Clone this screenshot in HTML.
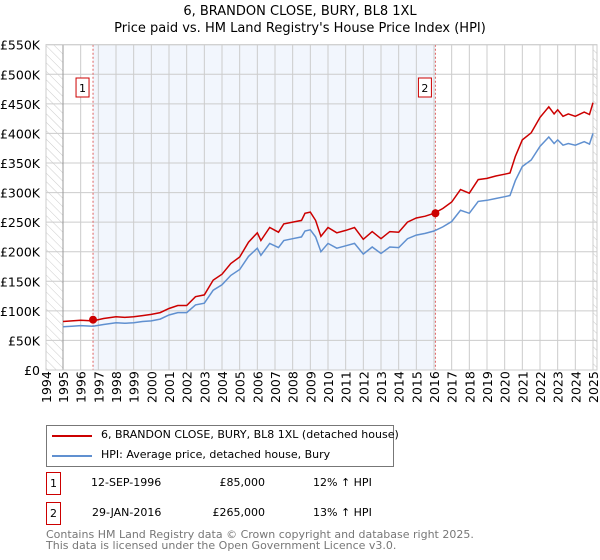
<!DOCTYPE html>
<html><head><meta charset="utf-8"><style>
body{margin:0;background:#fff;font-family:"DejaVu Sans","Liberation Sans",sans-serif;}
#wrap{position:relative;width:600px;height:560px;overflow:hidden}
svg text{font-family:"DejaVu Sans","Liberation Sans",sans-serif}
</style></head><body><div id="wrap">
<svg id="chart" width="600" height="560">
<defs><pattern id="hatch" width="6" height="6" patternUnits="userSpaceOnUse" patternTransform="rotate(-45)"><line x1="0" y1="0" x2="0" y2="6" stroke="#ccc" stroke-width="1"/></pattern></defs>
<text x="300" y="15" text-anchor="middle" font-size="13">6, BRANDON CLOSE, BURY, BL8 1XL</text>
<text x="300" y="32" text-anchor="middle" font-size="13">Price paid vs. HM Land Registry's House Price Index (HPI)</text>
<g id="plot"></g>
</svg>
<div style="position:absolute;left:46px;top:425px;width:346px;height:40px;border:1px solid #777;font-size:11px;white-space:nowrap">
<div style="position:absolute;left:5px;top:9px;width:40px;height:2px;background:#cc0000"></div>
<div style="position:absolute;left:54px;top:2px">6, BRANDON CLOSE, BURY, BL8 1XL (detached house)</div>
<div style="position:absolute;left:5px;top:29px;width:40px;height:2px;background:#6090d0"></div>
<div style="position:absolute;left:54px;top:22px">HPI: Average price, detached house, Bury</div>
</div>
<div style="position:absolute;top:472px;left:0;font-size:11px;width:600px">
<div style="position:absolute;left:46px;top:0;width:13px;height:21px;border:1px solid #c00;text-align:center;line-height:21px">1</div>
<div style="position:absolute;left:91px;top:4px">12-SEP-1996</div>
<div style="position:absolute;left:190px;top:4px;width:75px;text-align:right">£85,000</div>
<div style="position:absolute;left:313px;top:4px">12% ↑ HPI</div></div>
<div style="position:absolute;top:502px;left:0;font-size:11px;width:600px">
<div style="position:absolute;left:46px;top:0;width:13px;height:21px;border:1px solid #c00;text-align:center;line-height:21px">2</div>
<div style="position:absolute;left:92px;top:4px">29-JAN-2016</div>
<div style="position:absolute;left:190px;top:4px;width:75px;text-align:right">£265,000</div>
<div style="position:absolute;left:313px;top:4px">13% ↑ HPI</div></div>
<div style="position:absolute;left:46px;top:529px;font-size:11px;color:#777;line-height:11px">Contains HM Land Registry data © Crown copyright and database right 2025.<br>This data is licensed under the Open Government Licence v3.0.</div>
</div>
<script>
const yTicks=[0,50,100,150,200,250,300,350,400,450,500,550];
const yTickLabels=["£0","£50K","£100K","£150K","£200K","£250K","£300K","£350K","£400K","£450K","£500K","£550K"];
const years=[1994,1995,1996,1997,1998,1999,2000,2001,2002,2003,2004,2005,2006,2007,2008,2009,2010,2011,2012,2013,2014,2015,2016,2017,2018,2019,2020,2021,2022,2023,2024,2025];
const hpiDates=[1995,1995.5,1996,1996.7,1997.3,1998,1998.5,1999,1999.5,2000,2000.5,2001,2001.5,2002,2002.5,2003,2003.5,2004,2004.5,2005,2005.5,2006,2006.2,2006.7,2007.2,2007.5,2008,2008.5,2008.7,2009,2009.3,2009.6,2010,2010.5,2011,2011.5,2012,2012.5,2013,2013.5,2014,2014.5,2015,2015.5,2016,2016.5,2017,2017.5,2018,2018.5,2019,2019.5,2020,2020.3,2020.6,2021,2021.5,2022,2022.5,2022.8,2023,2023.3,2023.6,2024,2024.5,2024.8,2025];
const hpiValues=[73,74,75,74,77,80,79,80,82,83,86,93,97,97,110,113,135,144,160,170,192,206,194,214,207,219,222,225,235,237,225,200,214,206,210,214,196,208,197,208,207,222,228,231,235,242,251,270,265,285,287,290,293,295,320,344,355,378,394,383,389,380,383,380,386,382,400];
const propValues=[82,83,84,83,87,90,89,90,92,94,97,104,109,109,124,127,152,162,180,191,216,232,219,241,233,247,250,253,265,267,253,226,241,232,236,241,221,234,222,234,233,250,257,260,265,273,284,305,299,322,324,328,331,333,361,389,401,427,445,433,440,429,433,429,436,432,452];
const sales=[{d:1996.7,v:85,n:"1"},{d:2016.08,v:265,n:"2"}];
const L=46,R=594,T=44.7,B=370;
const x=d=>63+(d-1995)*(530/30);
const y=v=>B-v*(B-T)/550;
const NS="http://www.w3.org/2000/svg";
const g=document.getElementById('plot');
function mk(t,a,p){const e=document.createElementNS(NS,t);for(const k in a)e.setAttribute(k,a[k]);(p||g).appendChild(e);return e;}
let e;
e=mk('rect',{x:L,y:T,width:x(1995)-L,height:B-T,fill:'url(#hatch)'});


e=mk('rect',{x:x(2025),y:T,width:R+3-x(2025),height:B-T,fill:'url(#hatch)'});


e=mk('rect',{x:x(sales[0].d),y:T,width:x(sales[1].d)-x(sales[0].d),height:B-T,fill:'#f2f6fd'});


yTicks.forEach((v,i)=>{
 e=mk('line',{x1:L,x2:R+3,y1:y(v),y2:y(v),stroke:'#cccccc','stroke-width':1});
 
 
 e=mk('text',{x:40,y:y(v)+5,'text-anchor':'end','font-size':12.5});
 e.textContent=yTickLabels[i];
 
 
});
years.forEach(yr=>{
 const xx=yr<1995?L:x(yr);
 e=mk('line',{x1:xx,x2:xx,y1:T,y2:B,stroke:'#cccccc','stroke-width':1});
 
 
 e=mk('text',{x:0,y:0,transform:`translate(${xx+5},${B+33}) rotate(-90)`,'font-size':12.5});
 e.textContent=yr;
 
 
});
e=mk('line',{x1:x(1995),x2:x(1995),y1:T,y2:B,stroke:'#999','stroke-width':1});


sales.forEach(s=>{
 e=mk('line',{x1:x(s.d),x2:x(s.d),y1:T,y2:B,stroke:'#e06060','stroke-width':1,'stroke-dasharray':'2,2'});
 
 
});
function path(vals){return hpiDates.map((d,i)=>(i?'L':'M')+x(d).toFixed(1)+','+y(vals[i]).toFixed(1)).join('');}
e=mk('path',{d:path(hpiValues),fill:'none',stroke:'#6090d0','stroke-width':1.5});


e=mk('path',{d:path(propValues),fill:'none',stroke:'#cc0000','stroke-width':1.5});


sales.forEach(s=>{
 e=mk('circle',{cx:x(s.d),cy:y(s.v),r:4,fill:'#cc0000'});
 
 
 e=mk('rect',{x:x(s.d)-17,y:78,width:13,height:19,fill:'#fff',stroke:'#cc0000'});
 
 
 e=mk('text',{x:x(s.d)-10.5,y:92,'text-anchor':'middle','font-size':11});
 e.textContent=s.n;
 
 
});
e=mk('rect',{x:L,y:T,width:R+3-L,height:B-T,fill:'none',stroke:'#ccc'});


</script></body></html>
